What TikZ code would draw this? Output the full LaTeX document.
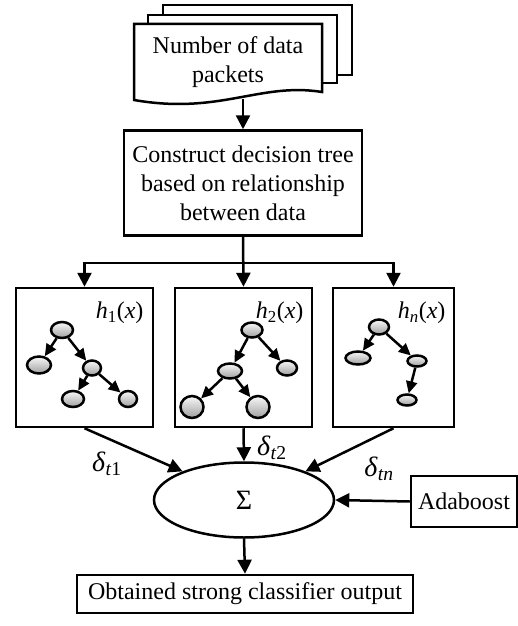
\documentclass[tikz,border=0pt]{standalone}
\usepackage{fontspec}
\setmainfont{Liberation Serif}
\usetikzlibrary{arrows.meta,shapes.geometric,calc}
\begin{document}
\begin{tikzpicture}[x=1pt,y=-1pt,
  txt/.style={font=\fontsize{24}{29}\selectfont},
  boxn/.style={draw,line width=2.5pt,fill=white,txt,align=center,inner sep=0pt},
  arr/.style={line width=2.5pt,-{Triangle[length=14pt,width=14pt]}},
  tarr/.style={line width=2.5pt,-{Triangle[length=12pt,width=11pt]}},
  docline/.style={line width=2.5pt,fill=white},
  tnode/.style={ellipse,draw,line width=2.5pt,inner sep=0pt,top color=gray!5,bottom color=gray!75},
  lbl/.style={font=\fontsize{24}{29}\selectfont},
  dlbl/.style={font=\fontsize{28}{32}\selectfont}
]
\useasboundingbox (0,0) rectangle (518,626);
% stacked documents
\draw[docline] (163,5) rectangle (352,75);
\draw[docline] (148,15) rectangle (337,83);
\draw[docline] (134,24) -- (322,24) -- (322,92) .. controls (260,82) and (220,115) .. (134,100) -- cycle;
\node[txt,align=center] (doc) at (228,62) {Number of data\\packets};
\coordinate (docb) at (243,99);
% decision box
\node[boxn,minimum width=238pt,minimum height=105pt] (dec) at (243,183) {Construct decision tree\\based on relationship\\between data};
\draw[arr] (docb) -- (dec.north);
% weak learner boxes
\node[boxn,minimum width=137pt,minimum height=139pt] (b1) at (84.5,357.5) {};
\node[boxn,minimum width=137pt,minimum height=139pt] (b2) at (243.5,357.5) {};
\node[boxn,minimum width=121pt,minimum height=139pt] (b3) at (393.5,357.5) {};
\coordinate (split) at (243,263);
\draw[arr] (dec.south) -- (b2.north);
\draw[arr] (split) -| (b1.north);
\draw[arr] (split) -| (b3.north);
\node[lbl,anchor=east] (h1) at (147,313) {\textit{h}\textsubscript{1}(\textit{x})};
\node[lbl,anchor=east] (h2) at (307,313) {\textit{h}\textsubscript{2}(\textit{x})};
\node[lbl,anchor=east] (h3) at (449,313) {\textit{h}\textsubscript{\textit{n}}(\textit{x})};
% tree 1
\node[tnode,minimum width=22pt,minimum height=16pt] (t1r) at (62,330) {};
\node[tnode,minimum width=24pt,minimum height=17pt] (t1a) at (39,365) {};
\node[tnode,minimum width=18pt,minimum height=15pt] (t1b) at (92,368) {};
\node[tnode,minimum width=22pt,minimum height=16pt] (t1c) at (73,399) {};
\node[tnode,minimum width=18pt,minimum height=16pt] (t1d) at (128,399) {};
\draw[tarr] (t1r) -- (t1a);
\draw[tarr] (t1r) -- (t1b);
\draw[tarr] (t1b) -- (t1c);
\draw[tarr] (t1b) -- (t1d);
% tree 2
\node[tnode,minimum width=21pt,minimum height=15pt] (t2r) at (252,330) {};
\node[tnode,minimum width=24pt,minimum height=15pt] (t2a) at (230,371) {};
\node[tnode,minimum width=20pt,minimum height=15pt] (t2b) at (287,368) {};
\node[tnode,minimum width=23pt,minimum height=22pt] (t2c) at (192,407) {};
\node[tnode,minimum width=23pt,minimum height=22pt] (t2d) at (258,407) {};
\draw[tarr] (t2r) -- (t2a);
\draw[tarr] (t2r) -- (t2b);
\draw[tarr] (t2a) -- (t2c);
\draw[tarr] (t2a) -- (t2d);
% tree 3
\node[tnode,minimum width=20pt,minimum height=15pt] (t3r) at (379,327) {};
\node[tnode,minimum width=25pt,minimum height=13pt] (t3a) at (358,358) {};
\node[tnode,minimum width=19pt,minimum height=11pt] (t3b) at (417,361) {};
\node[tnode,minimum width=19pt,minimum height=11pt] (t3c) at (407,400) {};
\draw[tarr] (t3r) -- (t3a);
\draw[tarr] (t3r) -- (t3b);
\draw[tarr] (t3b) -- (t3c);
% sum
\node[ellipse,draw,line width=2.5pt,minimum width=180pt,minimum height=75pt,inner sep=0pt,font=\fontsize{28}{32}\selectfont] (sum) at (244,500) {Σ};
\draw[arr] (b1.south) -- (sum.155);
\draw[arr] (b2.south) -- (sum.north);
\draw[arr] (b3.south) -- (sum.25);
\node[dlbl] (d1) at (107,464) {\textit{δ}\textsubscript{\textit{t}1}};
\node[dlbl] (d2) at (272,448) {\textit{δ}\textsubscript{\textit{t}2}};
\node[dlbl] (d3) at (379,469) {\textit{δ}\textsubscript{\textit{tn}}};
% adaboost
\node[boxn,minimum width=106pt,minimum height=51pt] (ada) at (464,501.5) {Adaboost};
\draw[arr] (ada.west) -- (sum.east);
% output
\node[boxn,minimum width=336pt,minimum height=38pt] (out) at (245,594) {Obtained strong classifier output};
\draw[arr] (sum.south) -- (out.north);
\end{tikzpicture}
\end{document}
